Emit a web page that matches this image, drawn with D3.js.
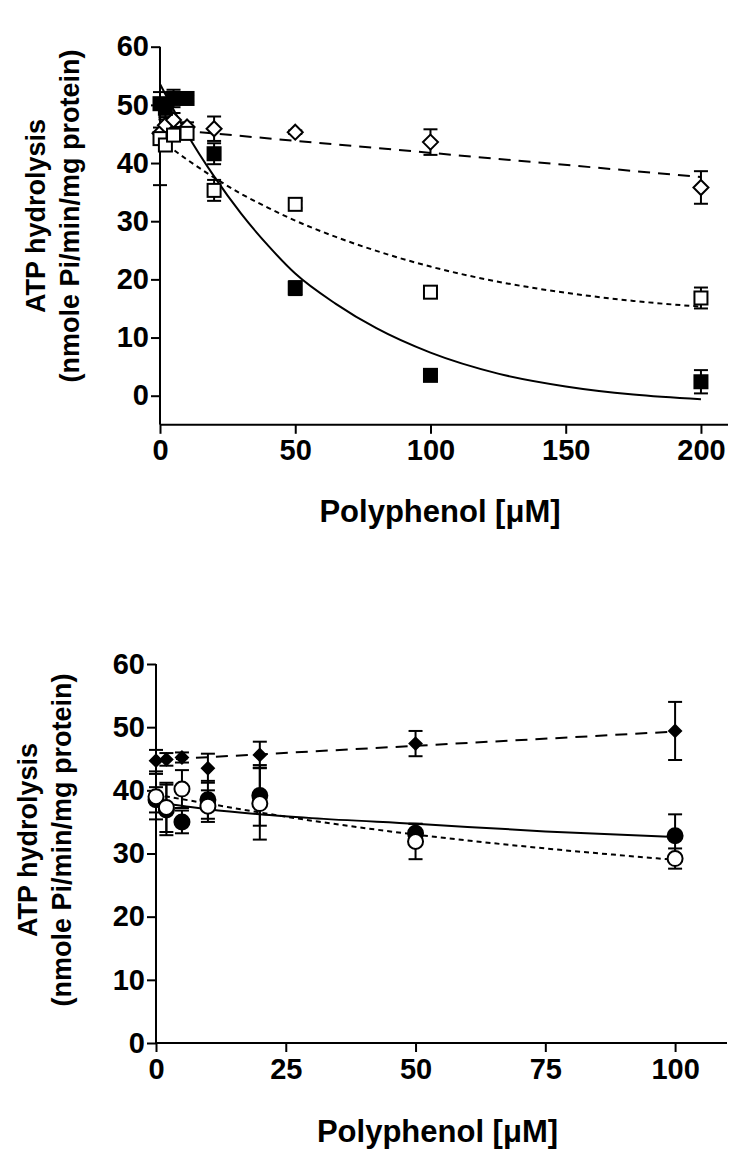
<!DOCTYPE html>
<html><head><meta charset="utf-8">
<script src="https://cdn.jsdelivr.net/npm/d3@7"></script>
<style>body{margin:0;background:#fff}svg{display:block}text{font-family:"Liberation Sans",Arial,sans-serif;font-weight:bold;fill:#000}</style>
</head><body><svg id="c" width="747" height="1171"></svg>
<script>
// ---------- Top panel data ----------
const topConc = [0, 2, 5, 10, 20, 50, 100, 200];
const topFilledSq = [50.2, 49.4, 51.1, 51.1, 41.6, 18.5, 3.5, 2.4];
const topFilledSqErr = [1.0, 1.5, 1.5, 0.5, 1.8, 1.2, 0.6, 2.0];
const topOpenSq = [44.2, 43.1, 44.8, 45.1, 35.3, 32.9, 17.8, 16.8];
const topOpenSqErr = [8.0, 1.0, 1.0, 1.0, 1.8, 0.6, 0.5, 1.8];
const topOpenDia = [45.1, 46.5, 47.4, 46.2, 45.9, 45.3, 43.6, 35.8];
const topOpenDiaErr = [1.0, 1.0, 1.2, 0.8, 2.1, 0.3, 2.2, 2.8];
// fitted curves
const topCurveX = [0, 10, 20, 30, 40, 50, 65, 80, 100, 125, 150, 175, 200];
const topSolidY = [53.6, 45.0, 37.7, 31.3, 25.8, 21.0, 15.8, 11.6, 7.4, 3.8, 1.6, 0.2, -0.6];
const topDottedY = [44.0, 40.6, 37.5, 34.7, 32.3, 30.1, 27.3, 24.9, 22.2, 19.6, 17.7, 16.3, 15.3];
const topDashedX = [0, 200];
const topDashedY = [45.9, 37.6];
const topXTicks = [0, 50, 100, 150, 200];
const topYTicks = [0, 10, 20, 30, 40, 50, 60];

// ---------- Bottom panel data ----------
const botConc = [0, 2, 5, 10, 20, 50, 100];
const botFilledDia = [44.7, 44.9, 45.2, 43.5, 45.6, 47.4, 49.4];
const botFilledDiaErr = [1.7, 1.0, 0.8, 2.3, 2.1, 2.0, 4.6];
const botFilledCirc = [38.5, 36.9, 35.0, 38.5, 39.2, 33.2, 32.8];
const botFilledCircErr = [2.0, 4.0, 1.8, 3.0, 4.8, 1.5, 3.4];
const botOpenCirc = [39.0, 37.3, 40.2, 37.5, 37.9, 31.9, 29.2];
const botOpenCircErr = [3.6, 3.9, 3.0, 2.5, 5.7, 2.8, 1.6];
const botCurveX = [0, 10, 20, 30, 50, 75, 100];
const botSolidY = [38.1, 37.0, 36.2, 35.6, 34.7, 33.5, 32.6];
const botDottedY = [39.3, 37.9, 36.5, 35.2, 33.0, 30.8, 29.0];
const botDashedX = [0, 100];
const botDashedY = [44.8, 49.3];
const botXTicks = [0, 25, 50, 75, 100];
const botYTicks = [0, 10, 20, 30, 40, 50, 60];

const yLabel1 = "ATP hydrolysis";
const yLabel2 = "(nmole Pi/min/mg protein)";
const xLabel = "Polyphenol [\u03bcM]";

const svg = d3.select("#c");

function panel(cfg) {
  const g = svg.append("g");
  const x = d3.scaleLinear().domain(cfg.xDomain).range(cfg.xRange);
  const y = d3.scaleLinear().domain(cfg.yDomain).range(cfg.yRange);
  const axisY0 = cfg.xAxisAt;

  const xa = g.append("g").attr("transform", `translate(0,${y(axisY0)})`)
    .call(d3.axisBottom(x).tickValues(cfg.xTicks).tickSize(9).tickPadding(6).tickFormat(d3.format("d")));
  const ya = g.append("g").attr("transform", `translate(${x(0)},0)`)
    .call(d3.axisLeft(y).tickValues(cfg.yTicks).tickSize(9).tickPadding(2).tickFormat(d3.format("d")));
  [xa, ya].forEach(a => {
    a.select(".domain").attr("stroke", "#000").attr("stroke-width", 2);
    a.selectAll(".tick line").attr("stroke", "#000").attr("stroke-width", 2);
    a.selectAll(".tick text").style("font-size", "29px").attr("font-family", null);
  });
  xa.select(".domain").attr("d", `M${x(cfg.xDomain[0])},0H${x(cfg.xDomain[1])}`);
  ya.select(".domain").attr("d", `M0,${y(cfg.yDomain[0])}V${y(cfg.yDomain[1])}`);

  g.append("text").attr("x", (x.range()[0] + x.range()[1]) / 2 - 4).attr("y", cfg.xLabelY)
    .attr("text-anchor", "middle").style("font-size", "31px").text(xLabel);
  g.append("text").attr("transform", `translate(${cfg.yl1X},${cfg.ylY}) rotate(-90)`)
    .attr("text-anchor", "middle").style("font-size", "27px").text(yLabel1);
  g.append("text").attr("transform", `translate(${cfg.yl2X},${cfg.ylY}) rotate(-90)`)
    .attr("text-anchor", "middle").style("font-size", "27px").text(yLabel2);

  const line = d3.line().x(d => x(d[0])).y(d => y(d[1])).curve(d3.curveMonotoneX);
  cfg.curves.forEach(c => {
    g.append("path").attr("d", line(d3.zip(c.x, c.y))).attr("fill", "none")
      .attr("stroke", "#000").attr("stroke-width", 2).attr("stroke-dasharray", c.dash || null);
  });

  const cap = 7;
  cfg.series.forEach(s => {
    s.y.forEach((v, i) => {
      const e = s.err[i];
      if (!e) return;
      const xi = x(cfg.xs[i]);
      const eg = g.append("g").attr("stroke", "#000").attr("stroke-width", 2);
      eg.append("line").attr("x1", xi).attr("x2", xi).attr("y1", y(v + e)).attr("y2", y(v - e));
      eg.append("line").attr("x1", xi - cap).attr("x2", xi + cap).attr("y1", y(v + e)).attr("y2", y(v + e));
      eg.append("line").attr("x1", xi - cap).attr("x2", xi + cap).attr("y1", y(v - e)).attr("y2", y(v - e));
    });
  });

  cfg.series.forEach(s => {
    s.y.forEach((v, i) => {
      const xi = x(cfg.xs[i]), yi = y(v);
      const fill = s.filled ? "#000" : "#fff";
      let m;
      if (s.shape === "square") {
        m = g.append("rect").attr("x", xi - 6.5).attr("y", yi - 6.5).attr("width", 13).attr("height", 13);
      } else if (s.shape === "diamond") {
        const r = s.size || 7.5;
        m = g.append("path").attr("d", `M${xi},${yi - r}L${xi + r},${yi}L${xi},${yi + r}L${xi - r},${yi}Z`);
      } else {
        m = g.append("circle").attr("cx", xi).attr("cy", yi).attr("r", 7.5);
      }
      m.attr("fill", fill).attr("stroke", "#000").attr("stroke-width", 2);
    });
  });
}

panel({
  xDomain: [0, 210], xRange: [160, 728], yDomain: [-5, 60], yRange: [424.8, 46.7], xAxisAt: -5,
  xTicks: topXTicks, yTicks: topYTicks, xLabelY: 522, yl1X: 45, yl2X: 79, ylY: 216,
  xs: topConc,
  curves: [
    { x: topCurveX, y: topSolidY },
    { x: topCurveX, y: topDottedY, dash: "5,4" },
    { x: topDashedX, y: topDashedY, dash: "12,8" }
  ],
  series: [
    { y: topOpenDia, err: topOpenDiaErr, shape: "diamond", filled: false },
    { y: topOpenSq, err: topOpenSqErr, shape: "square", filled: false },
    { y: topFilledSq, err: topFilledSqErr, shape: "square", filled: true }
  ]
});

panel({
  xDomain: [0, 110], xRange: [156, 727], yDomain: [0, 60], yRange: [1043, 664], xAxisAt: 0,
  xTicks: botXTicks, yTicks: botYTicks, xLabelY: 1142, yl1X: 37, yl2X: 71, ylY: 840,
  xs: botConc,
  curves: [
    { x: botCurveX, y: botSolidY },
    { x: botCurveX, y: botDottedY, dash: "5,4" },
    { x: botDashedX, y: botDashedY, dash: "12,8" }
  ],
  series: [
    { y: botFilledDia, err: botFilledDiaErr, shape: "diamond", filled: true, size: 6 },
    { y: botFilledCirc, err: botFilledCircErr, shape: "circle", filled: true },
    { y: botOpenCirc, err: botOpenCircErr, shape: "circle", filled: false }
  ]
});
</script>
</body></html>
